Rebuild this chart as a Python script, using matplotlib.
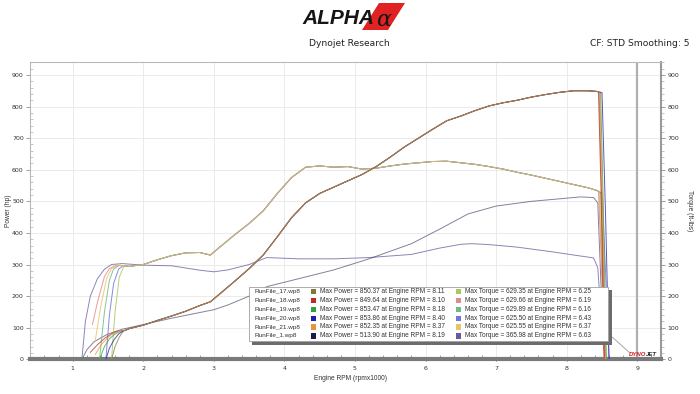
import matplotlib
matplotlib.use("Agg")
import matplotlib.pyplot as plt
from matplotlib.patches import Rectangle, Polygon
from matplotlib.lines import Line2D

W, H = 700, 394

# ---------------- data ----------------
run_names = ["RunFile_17.wp8", "RunFile_18.wp8", "RunFile_19.wp8",
             "RunFile_20.wp8", "RunFile_21.wp8", "RunFile_1.wp8"]
max_power = [850.37, 849.64, 853.47, 853.86, 852.35, 513.90]
max_power_rpm = [8.11, 8.10, 8.18, 8.40, 8.37, 8.19]
max_torque = [629.35, 629.66, 629.89, 625.50, 625.55, 365.98]
max_torque_rpm = [6.25, 6.19, 6.16, 6.43, 6.37, 6.63]

power_colors = ["#7d7a34", "#c4282a", "#2fa33c", "#1f1fa8", "#e8943a", "#1c1c4c"]
torque_colors = ["#a8c85c", "#e48a8a", "#6cbc84", "#7474dc", "#e8c466", "#6a5a9c"]

# common body of the tuned runs (rpm x1000)
tuned_rpm = [1.75, 1.8, 2.0, 2.2, 2.4, 2.6, 2.8, 2.95, 3.1, 3.3, 3.5, 3.7, 3.9,
             4.1, 4.3, 4.5, 4.7, 4.9, 5.1, 5.3, 5.5, 5.7, 5.9, 6.1, 6.3, 6.5,
             6.7, 6.9, 7.1, 7.3, 7.5, 7.7, 7.9, 8.1, 8.3, 8.42]
tuned_tq = [296, 294, 300, 315, 328, 337, 338, 330, 358, 395, 430, 470, 525,
            575, 608, 612, 608, 610, 602, 605, 612, 618, 622, 626, 627, 622,
            617, 610, 602, 592, 583, 573, 563, 553, 543, 535]
tuned_hp = [92, 97, 108, 123, 137, 152, 170, 182, 210, 248, 287, 330, 388,
            448, 495, 525, 545, 565, 585, 610, 640, 672, 700, 728, 755, 770,
            787, 802, 812, 820, 830, 838, 845, 850, 850, 848]

# launch segments for each tuned run
launch_tq_rpm = [[1.55, 1.6, 1.66, 1.72],
                 [1.28, 1.35, 1.45, 1.52, 1.62],
                 [1.38, 1.45, 1.52, 1.58, 1.66],
                 [1.47, 1.52, 1.58, 1.65, 1.71],
                 [1.32, 1.40, 1.48, 1.55, 1.65]]
launch_tq = [[0, 150, 260, 292],
             [110, 180, 262, 287, 298],
             [0, 150, 250, 286, 297],
             [0, 140, 240, 285, 296],
             [60, 170, 255, 287, 298]]
launch_hp_rpm = [[1.55, 1.6, 1.66, 1.72],
                 [1.25, 1.35, 1.45, 1.55, 1.62],
                 [1.38, 1.45, 1.52, 1.60, 1.66],
                 [1.47, 1.52, 1.58, 1.65, 1.71],
                 [1.32, 1.40, 1.48, 1.55, 1.65]]
launch_hp = [[0, 40, 70, 90],
             [22, 46, 66, 81, 88],
             [0, 40, 65, 80, 87],
             [0, 35, 60, 80, 89],
             [15, 45, 65, 78, 88]]
# drop at the end of each tuned run
drop_rpm = [[8.46, 8.50, 8.54],
            [8.45, 8.49, 8.53],
            [8.48, 8.52, 8.56],
            [8.50, 8.55, 8.60],
            [8.47, 8.51, 8.55]]
drop_tq = [[530, 300, 0], [532, 310, 0], [528, 290, 0], [526, 280, 0], [529, 300, 0]]
drop_hp = [[846, 480, 0], [847, 500, 0], [845, 470, 0], [844, 460, 0], [846, 490, 0]]

# stock run (RunFile_1)
stock_tq_rpm = [1.13, 1.18, 1.25, 1.35, 1.45, 1.55, 1.7, 2.0, 2.4, 2.8, 3.0,
                3.2, 3.5, 3.75, 4.2, 4.7, 5.2, 5.8, 6.2, 6.5, 6.65, 6.9, 7.3,
                7.8, 8.1, 8.38, 8.44, 8.49, 8.54]
stock_tq = [0, 120, 200, 255, 285, 300, 303, 298, 296, 282, 277,
            283, 300, 322, 318, 318, 322, 332, 352, 364, 366, 363, 355,
            340, 330, 321, 290, 130, 0]
stock_hp_rpm = [1.13, 1.2, 1.3, 1.4, 1.5, 1.7, 2.0, 2.4, 2.8, 3.0, 3.2, 3.5,
                3.75, 4.2, 4.7, 5.2, 5.8, 6.2, 6.6, 7.0, 7.5, 8.0, 8.19, 8.38,
                8.44, 8.49, 8.54]
stock_hp = [0, 30, 55, 68, 80, 95, 110, 130, 148, 157, 172, 200,
            230, 255, 283, 318, 366, 412, 460, 485, 500, 510, 514, 512,
            495, 210, 0]

x_ticks = [1, 2, 3, 4, 5, 6, 7, 8, 9]
y_ticks = [0, 100, 200, 300, 400, 500, 600, 700, 800, 900]

# ---------------- figure ----------------
plt.rcParams['font.family'] = ['DejaVu Sans']
fig = plt.figure(figsize=(W / 100, H / 100), dpi=100)
fig.patch.set_facecolor("white")


def fx(px):
    return px / W


def fy(py):
    return 1 - py / H


ax = fig.add_axes([fx(30), fy(359.3), (661 - 30) / W, (359.3 - 62) / H])
ax.set_xlim(0.395, 9.336)
ax.set_ylim(0, 941)
ax.set_facecolor("white")

ax.set_xticks(x_ticks)
ax.set_xticks([v / 5 for v in range(3, 47)], minor=True)
ax.set_yticks(y_ticks)
ax.set_yticks(list(range(0, 941, 20)), minor=True)
ax.grid(True, which="major", color="#e8e8e8", lw=0.6)
ax.set_axisbelow(True)
ax.tick_params(axis="x", which="major", labelsize=4.5, length=3, width=0.6,
               color="#555555", labelcolor="#333333", direction="inout", pad=3)
ax.tick_params(axis="x", which="minor", length=3, width=0.5, color="#777777", direction="in")
ax.tick_params(axis="y", which="major", labelsize=4.5, length=3, width=0.5,
               color="#777777", labelcolor="#333333", direction="out", pad=1.5)
ax.tick_params(axis="y", which="minor", length=2, width=0.4, color="#999999", direction="in")

for s in ["top", "left"]:
    ax.spines[s].set_color("#b8b8b8")
    ax.spines[s].set_linewidth(0.8)
ax.spines["bottom"].set_color("#7a7a7a")
ax.spines["bottom"].set_linewidth(3)
ax.spines["right"].set_color("#9a9a9a")
ax.spines["right"].set_linewidth(1.5)

ax2 = ax.twinx()
ax2.set_ylim(0, 941)
ax2.set_yticks(y_ticks)
ax2.set_yticks(list(range(0, 941, 20)), minor=True)
ax2.tick_params(axis="y", which="major", labelsize=4.5, length=3, width=0.5,
                color="#777777", labelcolor="#333333", direction="out", pad=1.5)
ax2.tick_params(axis="y", which="minor", length=2, width=0.4, color="#999999", direction="out")
for s in ax2.spines.values():
    s.set_visible(False)

ax.axvline(9, color="#b0b0b0", lw=1.6, zorder=1)

# ---------------- curves ----------------
lw = 0.7
# stock
ax.plot(stock_tq_rpm, stock_tq, color=torque_colors[5], lw=lw, alpha=0.75, zorder=2)
ax.plot(stock_hp_rpm, stock_hp, color=power_colors[5], lw=lw, alpha=0.55, zorder=2)

# tuned
for i in range(5):
    r = launch_tq_rpm[i] + [v for v in tuned_rpm if v > launch_tq_rpm[i][-1]] + drop_rpm[i]
    t = launch_tq[i] + [tuned_tq[k] for k, v in enumerate(tuned_rpm) if v > launch_tq_rpm[i][-1]] + drop_tq[i]
    ax.plot(r, t, color=torque_colors[i], lw=lw, alpha=0.85, zorder=3)
for i in range(5):
    r = launch_hp_rpm[i] + [v for v in tuned_rpm if v > launch_hp_rpm[i][-1]] + drop_rpm[i]
    p = launch_hp[i] + [tuned_hp[k] for k, v in enumerate(tuned_rpm) if v > launch_hp_rpm[i][-1]] + drop_hp[i]
    ax.plot(r, p, color=power_colors[i], lw=lw, alpha=0.75, zorder=4)

# ---------------- labels ----------------
fig.text(fx(350), fy(378), "Engine RPM (rpmx1000)", ha="center", va="center",
         fontsize=4.8, color="#333333", family="Liberation Sans")
fig.text(fx(8), fy(211), "Power (hp)", ha="center", va="center", rotation=90,
         fontsize=4.8, color="#333333", family="Liberation Sans")
fig.text(fx(689), fy(211), "Torque (ft-lbs)", ha="center", va="center", rotation=270,
         fontsize=4.8, color="#333333", family="Liberation Sans")

# header
fig.text(fx(349), fy(43), "Dynojet Research", ha="center", va="center",
         fontsize=6.6, color="#222222")
fig.text(fx(690), fy(43), "CF: STD Smoothing: 5", ha="right", va="center",
         fontsize=6.6, color="#222222")
# Alpha logo
fig.patches.append(Polygon([(fx(362), fy(30)), (fx(379), fy(3)), (fx(405), fy(3)),
                            (fx(388), fy(30))], closed=True, transform=fig.transFigure,
                           facecolor="#e02222", edgecolor="none"))
fig.text(fx(302), fy(19), "ALPHA", ha="left", va="center", fontsize=15,
         fontweight="heavy", fontstyle="italic", color="#151515",
         family="Liberation Sans")
fig.text(fx(384), fy(20), "α", ha="center", va="center", fontsize=16,
         fontstyle="italic", color="#151515", family="DejaVu Serif")

# ---------------- legend box ----------------
fig.patches.append(Rectangle((fx(252), fy(345)), (612 - 252) / W, (345 - 290) / H,
                             transform=fig.transFigure, facecolor="#6c6c6c",
                             edgecolor="none", zorder=5))
fig.patches.append(Rectangle((fx(249), fy(341)), (608 - 249) / W, (341 - 287) / H,
                             transform=fig.transFigure, facecolor="white",
                             edgecolor="#a0a0a0", lw=0.6, zorder=6))
row_y = [291.7, 300.7, 309.5, 318.3, 327.0, 335.8]
for i in range(6):
    y = row_y[i]
    fig.text(fx(254), fy(y), run_names[i], ha="left", va="center", fontsize=4.6,
             color="#333333", family="Liberation Sans", zorder=7)
    fig.patches.append(Rectangle((fx(311), fy(y + 2.7)), 5.4 / W, 5.4 / H,
                                 transform=fig.transFigure, facecolor=power_colors[i],
                                 edgecolor="none", zorder=7))
    fig.text(fx(320), fy(y), "Max Power = %.2f at Engine RPM = %.2f" % (max_power[i], max_power_rpm[i]),
             ha="left", va="center", fontsize=4.7, color="#333333",
             family="Liberation Sans", zorder=7)
    fig.patches.append(Rectangle((fx(456), fy(y + 2.7)), 5.4 / W, 5.4 / H,
                                 transform=fig.transFigure, facecolor=torque_colors[i],
                                 edgecolor="none", zorder=7))
    fig.text(fx(465), fy(y), "Max Torque = %.2f at Engine RPM = %.2f" % (max_torque[i], max_torque_rpm[i]),
             ha="left", va="center", fontsize=4.7, color="#333333",
             family="Liberation Sans", zorder=7)

# leader line and Dynojet mark
fig.lines.append(Line2D([fx(611), fx(630)], [fy(336), fy(353)], transform=fig.transFigure,
                        color="#9a9a9a", lw=0.6))
fig.text(fx(629), fy(355), "DYNO", ha="left", va="center", fontsize=4.3,
         fontweight="bold", fontstyle="italic", color="#d42020", family="Liberation Sans")
fig.text(fx(646), fy(355), "JET", ha="left", va="center", fontsize=4.3,
         fontweight="bold", fontstyle="italic", color="#222222", family="Liberation Sans")

fig.savefig("out.png", dpi=100, facecolor="white")
